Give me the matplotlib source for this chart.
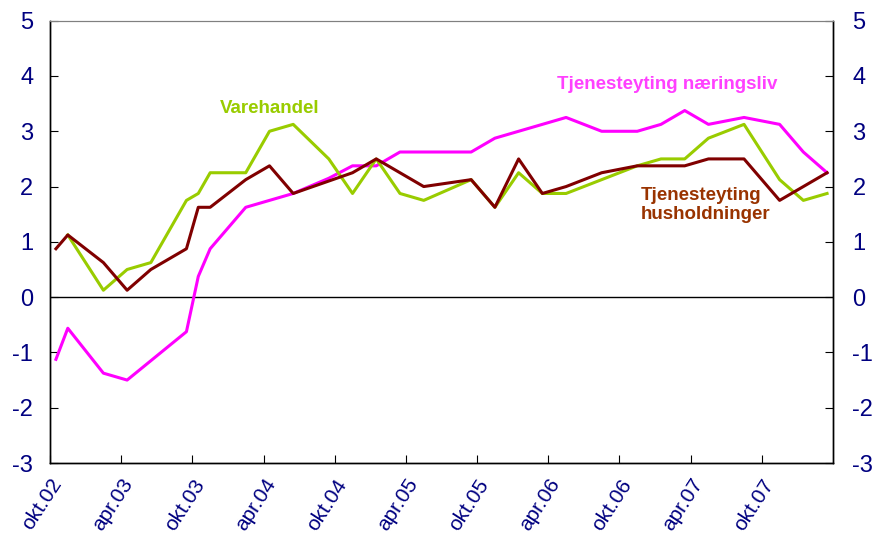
import numpy as np
import matplotlib
matplotlib.use("Agg")
import matplotlib.pyplot as plt

plt.rcParams['font.family'] = ['Liberation Sans', 'DejaVu Sans']
plt.rcParams['axes.unicode_minus'] = False

# months counted from okt.02 (0 = okt.02), points sit mid-month
months = [0, 1, 4, 6, 8, 11, 12, 13, 16, 18, 20, 23, 25, 27, 29, 31, 35, 37,
          39, 41, 43, 46, 49, 51, 53, 55, 58, 61, 63, 65]

varehandel = [np.nan, 1.125, 0.125, 0.5, 0.625, 1.75, 1.875, 2.25, 2.25, 3.0,
              3.125, 2.5, 1.875, 2.5, 1.875, 1.75, 2.125, 1.625, 2.25, 1.875,
              1.875, 2.125, 2.375, 2.5, 2.5, 2.875, 3.125, 2.125, 1.75, 1.875]

husholdninger = [0.875, 1.125, 0.625, 0.125, 0.5, 0.875, 1.625, 1.625, 2.125,
                 2.375, 1.875, 2.1, 2.25, 2.5, 2.25, 2.0, 2.125, 1.625, 2.5,
                 1.875, 2.0, 2.25, 2.375, 2.375, 2.375, 2.5, 2.5, 1.75, 2.0, 2.25]

naeringsliv = [-1.125, -0.5625, -1.375, -1.5, -1.15, -0.625, 0.375, 0.875,
               1.625, 1.75, 1.875, 2.15, 2.375, 2.375, 2.625, 2.625, 2.625,
               2.875, 3.0, 3.125, 3.25, 3.0, 3.0, 3.125, 3.375, 3.125, 3.25,
               3.125, 2.625, 2.25]

tick_labels = ['okt.02', 'apr.03', 'okt.03', 'apr.04', 'okt.04', 'apr.05',
               'okt.05', 'apr.06', 'okt.06', 'apr.07', 'okt.07']

navy = '#000080'
x = np.array(months) + 0.5

fig = plt.figure(figsize=(8.8, 5.4), dpi=100)
ax = fig.add_axes([50/880, 1 - 463/540, 783/880, 442.3/540])

ax.axhline(0, color='black', lw=1, zorder=1)
ax.plot(x, naeringsliv, color='#FF00FF', lw=2.2, zorder=3)
ax.plot(x, varehandel, color='#99CC00', lw=2.2, zorder=3)
ax.plot(x, husholdninger, color='#800000', lw=2.2, zorder=4)

ax.set_xlim(0, 66)
ax.set_ylim(-3, 5)
ax.set_yticks(range(-3, 6))
ax.set_xticks(range(0, 61, 6))
ax.set_xticklabels(tick_labels, rotation=57, ha='right', va='top',
                   rotation_mode='anchor')

ax.tick_params(axis='y', direction='in', length=6, labelsize=17,
               labelcolor=navy, pad=12)
ax.tick_params(axis='x', direction='in', length=6, labelsize=15,
               labelcolor=navy, pad=9)

ax2 = ax.twinx()
ax2.set_ylim(-3, 5)
ax2.set_yticks(range(-3, 6))
ax2.tick_params(axis='y', direction='in', length=6, labelsize=17,
                labelcolor=navy, pad=14)

for a in (ax, ax2):
    for side in ('left', 'right', 'bottom'):
        a.spines[side].set_color('black')
        a.spines[side].set_linewidth(1)
    a.spines['top'].set_color('#808080')

ax.text(18.55, 3.42, 'Varehandel', color='#99CC00', fontsize=13.5,
        fontweight='bold', ha='center', va='center')
ax.text(52.0, 3.84, 'Tjenesteyting næringsliv', color='#FF40FF',
        fontsize=13.5, fontweight='bold', ha='center', va='center')
ax.text(49.8, 1.67, 'Tjenesteyting\nhusholdninger', color='#993300',
        fontsize=13.5, fontweight='bold', ha='left', va='center',
        linespacing=1.12)

fig.savefig('out.png', dpi=100)
